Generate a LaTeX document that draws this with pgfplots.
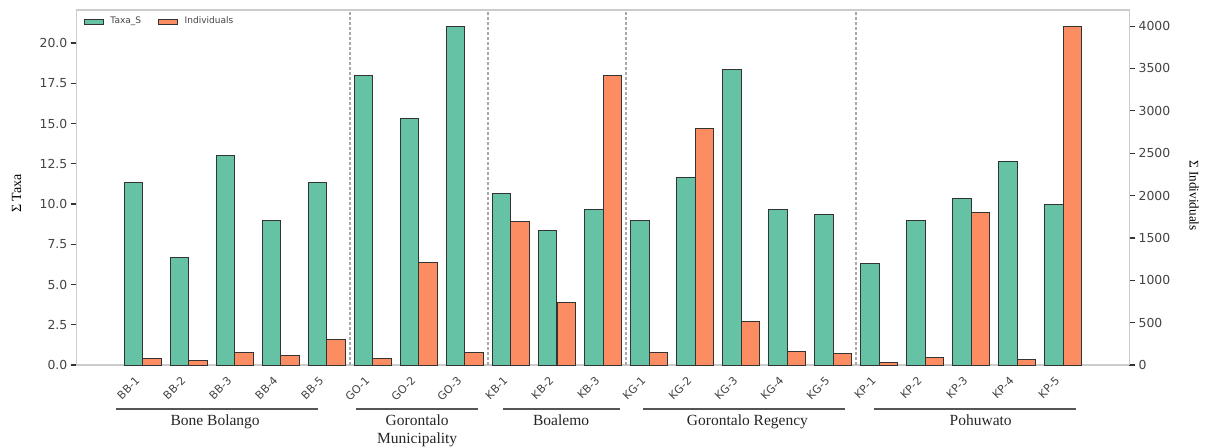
\documentclass[border=0pt]{standalone}
\usepackage{pgfplots}
\usepackage{pgfplotstable}
\pgfplotsset{compat=1.18}
\usepackage{fontspec}
\setmainfont{Liberation Serif}
\newfontfamily\dejavu{DejaVu Sans}
\definecolor{cgreen}{HTML}{66C2A5}
\definecolor{corange}{HTML}{FC8D62}
\definecolor{spine}{HTML}{CCCCCC}
\definecolor{ticktext}{HTML}{444444}
\definecolor{edge}{HTML}{333333}
\definecolor{grpline}{HTML}{555555}
\definecolor{sep}{HTML}{A8A8A8}

\pgfplotstableread{
x label taxa ind
0 BB-1 11.33 79
1 BB-2 6.67 51
2 BB-3 13.00 153
3 BB-4 9.00 118
4 BB-5 11.33 303
5 GO-1 18.00 71
6 GO-2 15.33 1206
7 GO-3 21.00 150
8 KB-1 10.67 1694
9 KB-2 8.33 739
10 KB-3 9.67 3415
11 KG-1 9.00 145
12 KG-2 11.67 2794
13 KG-3 18.33 515
14 KG-4 9.67 157
15 KG-5 9.33 130
16 KP-1 6.33 24
17 KP-2 9.00 90
18 KP-3 10.33 1796
19 KP-4 12.67 63
20 KP-5 10.00 3990
}\datatable

\pgfplotsset{
  common/.style={
    at={(0,0)}, anchor=south west,
    width=526.3pt, height=177.5pt, scale only axis,
    xmin=-1.44, xmax=21.44,
    /pgf/number format/assume math mode=true,
    tick align=outside,
    major tick length=3pt,
    ytick style={color=edge, line width=0.6pt},
    axis line style={spine, line width=0.65pt},
    yticklabel style={font=\dejavu\fontsize{6.2}{7}\selectfont, text=ticktext, inner sep=1.5pt},
    legend image code/.code={\draw[#1] (0pt,-1.25pt) rectangle (9.5pt,1.25pt);},
  }
}

\begin{document}
\begin{tikzpicture}
\useasboundingbox (-38.35pt,-41pt) rectangle (566.65pt,182.5pt);
\begin{axis}[
  common,
  name=ax,
  ymin=0, ymax=22.05,
  ytick={0,2.5,...,20},
  ytick pos=left,
  yticklabel style={/pgf/number format/.cd, fixed, fixed zerofill, precision=1},
  xtick={0,...,20},
  xticklabels={BB-1,BB-2,BB-3,BB-4,BB-5,GO-1,GO-2,GO-3,KB-1,KB-2,KB-3,KG-1,KG-2,KG-3,KG-4,KG-5,KP-1,KP-2,KP-3,KP-4,KP-5},
  xtick style={draw=none},
  xticklabel style={font=\dejavu\fontsize{5.5}{6.5}\selectfont, text=ticktext, inner sep=0pt, xshift=-1pt, yshift=-5.4pt, rotate=45, anchor=south east},
  ylabel={Σ Taxa},
  ylabel style={at={([xshift=-30pt,yshift=-3pt]axis description cs:0,0.5)}, anchor=center, font=\fontsize{7}{8}\selectfont},
  clip=false,
  legend style={at={(0,1)}, anchor=north west, draw=none, fill=none, xshift=3.3pt, yshift=-3.2pt,
    font=\dejavu\fontsize{4.5}{5}\selectfont, text=ticktext, legend columns=2, inner sep=0pt,
    nodes={inner sep=0pt},
    /tikz/every odd column/.append style={column sep=3.4pt},
    /tikz/every even column/.append style={column sep=8.4pt}},
]
\addplot[ybar, bar width=0.4, bar shift=-0.2, fill=cgreen, draw=edge, line width=0.5pt] table[x=x,y=taxa]{\datatable};
\addlegendentry{Taxa\_S}
\addlegendimage{fill=corange, draw=edge, line width=0.5pt}
\addlegendentry{Individuals}
% group separators
\begin{scope}[sep, dash pattern=on 1.5pt off 1pt, line width=0.55pt]
\draw (axis cs:4.5,0) -- (axis cs:4.5,22.05);
\draw (axis cs:7.5,0) -- (axis cs:7.5,22.05);
\draw (axis cs:10.5,0) -- (axis cs:10.5,22.05);
\draw (axis cs:15.5,0) -- (axis cs:15.5,22.05);
\end{scope}
% group lines and labels
\begin{scope}[grpline, line width=0.6pt]
\draw ([yshift=-22pt]axis cs:-0.58,0) -- ([yshift=-22pt]axis cs:3.80,0);
\draw ([yshift=-22pt]axis cs:4.63,0) -- ([yshift=-22pt]axis cs:7.28,0);
\draw ([yshift=-22pt]axis cs:7.83,0) -- ([yshift=-22pt]axis cs:10.38,0);
\draw ([yshift=-22pt]axis cs:10.87,0) -- ([yshift=-22pt]axis cs:15.25,0);
\draw ([yshift=-22pt]axis cs:15.90,0) -- ([yshift=-22pt]axis cs:20.29,0);
\end{scope}
\begin{scope}[every node/.style={anchor=base, inner sep=0pt, text=black!85, font=\fontsize{7.75}{9}\selectfont}]
\node at ([yshift=-30.25pt]axis cs:1.57,0) {Bone Bolango};
\node at ([yshift=-30.25pt]axis cs:5.96,0) {Gorontalo};
\node at ([yshift=-39pt]axis cs:5.96,0) {Municipality};
\node at ([yshift=-30.25pt]axis cs:9.09,0) {Boalemo};
\node at ([yshift=-30.25pt]axis cs:13.14,0) {Gorontalo Regency};
\node at ([yshift=-30.25pt]axis cs:18.21,0) {Pohuwato};
\end{scope}
\end{axis}

\begin{axis}[
  common,
  ymin=0, ymax=4190,
  axis x line=none,
  axis y line*=right,
  ytick={0,500,...,4000},
  scaled y ticks=false,
  yticklabel style={/pgf/number format/.cd, fixed, 1000 sep={}},
  ylabel={Σ Individuals},
  ylabel style={at={([xshift=32.4pt,yshift=-4pt]axis description cs:1,0.5)}, anchor=center, rotate=180, font=\fontsize{6.6}{7.5}\selectfont},
]
\addplot[ybar, bar width=0.4, bar shift=0.2, fill=corange, draw=edge, line width=0.5pt] table[x=x,y=ind]{\datatable};
\end{axis}
\end{tikzpicture}
\end{document}
